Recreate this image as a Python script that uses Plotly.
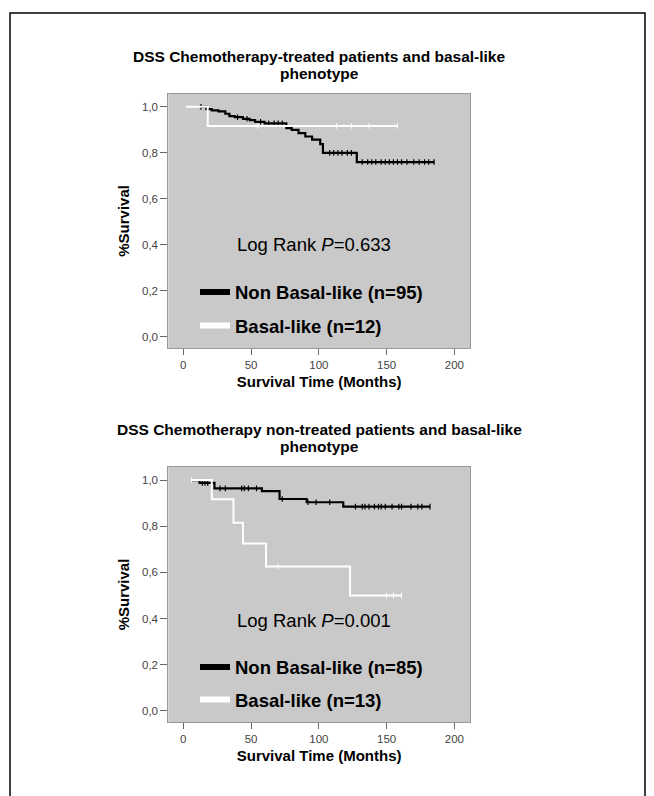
import plotly.graph_objects as go

# ---------------- data ----------------
# Top panel: chemotherapy-treated
top_nb_times = [12, 17, 21, 26, 31, 34, 38, 44, 49, 53, 60, 76, 80, 85, 90, 95, 101, 103, 128, 185]
top_nb_surv = [1.0, 0.99, 0.985, 0.98, 0.97, 0.96, 0.955, 0.948, 0.942, 0.935, 0.928, 0.907, 0.90, 0.886, 0.871, 0.857, 0.838, 0.80, 0.76, 0.76]
top_nb_cens_t = [13, 40, 47, 57, 63, 67, 70, 73, 108, 111, 114, 117, 121, 124, 132, 136, 139, 142, 146, 149, 152, 155, 158, 161, 165, 170, 174, 178, 181, 185]
top_nb_cens_s = [1.0, 0.955, 0.948, 0.935, 0.928, 0.928, 0.928, 0.928, 0.80, 0.80, 0.80, 0.80, 0.80, 0.80, 0.76, 0.76, 0.76, 0.76, 0.76, 0.76, 0.76, 0.76, 0.76, 0.76, 0.76, 0.76, 0.76, 0.76, 0.76, 0.76]

top_b_times = [2, 18, 158]
top_b_surv = [1.0, 0.917, 0.917]
top_b_cens_t = [55, 113, 124, 137, 158]
top_b_cens_s = [0.917, 0.917, 0.917, 0.917, 0.917]

# Bottom panel: chemotherapy non-treated
bot_nb_times = [6, 12, 23, 58, 71, 91, 118, 182]
bot_nb_surv = [1.0, 0.988, 0.964, 0.952, 0.918, 0.904, 0.885, 0.885]
bot_nb_cens_t = [14, 16, 18, 27, 31, 43, 45, 48, 54, 73, 92, 98, 108, 127, 132, 134, 137, 141, 144, 146, 149, 154, 159, 161, 168, 173, 176, 182]
bot_nb_cens_s = [0.988, 0.988, 0.988, 0.964, 0.964, 0.964, 0.964, 0.964, 0.964, 0.918, 0.904, 0.904, 0.904,
                 0.885, 0.885, 0.885, 0.885, 0.885, 0.885, 0.885, 0.885, 0.885, 0.885, 0.885, 0.885, 0.885, 0.885, 0.885]

bot_b_times = [6, 21, 37, 44, 61, 123, 161]
bot_b_surv = [1.0, 0.917, 0.815, 0.725, 0.625, 0.50, 0.50]
bot_b_cens_t = [6, 70, 150, 155, 161]
bot_b_cens_s = [1.0, 0.625, 0.50, 0.50, 0.50]

top_title = ["DSS Chemotherapy-treated patients and basal-like", "phenotype"]
bot_title = ["DSS Chemotherapy non-treated patients and basal-like", "phenotype"]
top_logrank = "Log Rank <i>P</i>=0.633"
bot_logrank = "Log Rank <i>P</i>=0.001"
top_labels = ["Non Basal-like (n=95)", "Basal-like (n=12)"]
bot_labels = ["Non Basal-like (n=85)", "Basal-like (n=13)"]
x_ticks = [0, 50, 100, 150, 200]
y_ticks = [0.0, 0.2, 0.4, 0.6, 0.8, 1.0]

# ---------------- layout helpers ----------------
W, H = 654, 796
FONT = "Liberation Sans, Arial, sans-serif"
GRAY = "#c9c9c9"

def px_x(p):
    return p / W

def px_y(p):
    return (H - p) / H

fig = go.Figure()

def add_panel(xa, ya, nb_t, nb_s, nb_ct, nb_cs, b_t, b_s, b_ct, b_cs, labels, legend_name):
    fig.add_trace(go.Scatter(x=nb_t, y=nb_s, mode="lines", line=dict(color="black", width=2.2, shape="hv"),
                             xaxis=xa, yaxis=ya, showlegend=False, hoverinfo="skip"))
    fig.add_trace(go.Scatter(x=nb_ct, y=nb_cs, mode="markers",
                             marker=dict(symbol="line-ns-open", size=4, color="black",
                                         line=dict(color="black", width=1.2)),
                             xaxis=xa, yaxis=ya, showlegend=False, hoverinfo="skip"))
    fig.add_trace(go.Scatter(x=b_t, y=b_s, mode="lines", line=dict(color="white", width=2, shape="hv"),
                             xaxis=xa, yaxis=ya, showlegend=False, hoverinfo="skip"))
    fig.add_trace(go.Scatter(x=b_ct, y=b_cs, mode="markers",
                             marker=dict(symbol="line-ns-open", size=4, color="white",
                                         line=dict(color="white", width=1)),
                             xaxis=xa, yaxis=ya, showlegend=False, hoverinfo="skip"))
    # legend entries
    fig.add_trace(go.Scatter(x=[None], y=[None], mode="lines", line=dict(color="black", width=6),
                             name=labels[0], legend=legend_name, legendgroup=legend_name + "a",
                             xaxis=xa, yaxis=ya))
    fig.add_trace(go.Scatter(x=[None], y=[None], mode="lines", line=dict(color="white", width=6),
                             name=labels[1], legend=legend_name, legendgroup=legend_name + "b",
                             xaxis=xa, yaxis=ya))

add_panel("x", "y", top_nb_times, top_nb_surv, top_nb_cens_t, top_nb_cens_s,
          top_b_times, top_b_surv, top_b_cens_t, top_b_cens_s, top_labels, "legend")
add_panel("x2", "y2", bot_nb_times, bot_nb_surv, bot_nb_cens_t, bot_nb_cens_s,
          bot_b_times, bot_b_surv, bot_b_cens_t, bot_b_cens_s, bot_labels, "legend2")

xdom = [px_x(168.3), px_x(470)]
top_ydom = [px_y(348.3), px_y(93.5)]
bot_ydom = [px_y(722.3), px_y(466.7)]

xaxis_common = dict(range=[-11.07, 211.5], tickvals=x_ticks, ticks="outside", ticklen=6, tickwidth=1,
                    tickcolor="#666", showgrid=False, zeroline=False, showline=True, linecolor="#9a9a9a",
                    linewidth=1, mirror=True, tickfont=dict(family=FONT, size=11.5, color="#444"),
                    title=dict(text="Survival Time (Months)", standoff=6,
                               font=dict(family=FONT, size=15, color="black", weight="bold")),
                    fixedrange=True)
yaxis_common = dict(range=[-0.05, 1.058], tickvals=y_ticks, tickformat=".1f", ticks="outside", ticklen=7,
                    tickwidth=1, tickcolor="#666", showgrid=False, zeroline=False, showline=True,
                    linecolor="#9a9a9a", linewidth=1, mirror=True,
                    tickfont=dict(family=FONT, size=11.5, color="#444"),
                    title=dict(text="%Survival", standoff=8,
                               font=dict(family=FONT, size=15, color="black", weight="bold")),
                    fixedrange=True)

fig.update_layout(
    width=W, height=H,
    margin=dict(l=0, r=0, t=0, b=0, autoexpand=False),
    paper_bgcolor="white",
    plot_bgcolor=GRAY,
    separators=",.",
    font=dict(family=FONT),
    xaxis=dict(domain=xdom, anchor="y", **xaxis_common),
    yaxis=dict(domain=top_ydom, anchor="x", **yaxis_common),
    xaxis2=dict(domain=xdom, anchor="y2", **xaxis_common),
    yaxis2=dict(domain=bot_ydom, anchor="x2", **yaxis_common),
    legend=dict(x=px_x(195), y=px_y(273.5), xanchor="left", yanchor="top", bgcolor="rgba(0,0,0,0)",
                font=dict(family=FONT, size=18.5, color="black", weight="bold"), tracegroupgap=6.5,
                itemclick=False, itemdoubleclick=False),
    legend2=dict(x=px_x(195), y=px_y(648.5), xanchor="left", yanchor="top", bgcolor="rgba(0,0,0,0)",
                 font=dict(family=FONT, size=18.5, color="black", weight="bold"), tracegroupgap=5.5,
                 itemclick=False, itemdoubleclick=False),
    showlegend=True,
)

# titles (one annotation per line for tight line spacing) and log-rank annotations
for lines, y1 in ((top_title, 57), (bot_title, 430)):
    for i, line in enumerate(lines):
        fig.add_annotation(text=line, xref="paper", yref="paper", x=px_x(319), y=px_y(y1 + 16 * i),
                           xanchor="center", yanchor="middle", showarrow=False,
                           font=dict(family=FONT, size=15.5, color="black", weight="bold"))
fig.add_annotation(text=top_logrank, xref="paper", yref="paper", x=px_x(235), y=px_y(245),
                   xanchor="left", yanchor="middle", showarrow=False,
                   font=dict(family=FONT, size=18.5, color="black"))
fig.add_annotation(text=bot_logrank, xref="paper", yref="paper", x=px_x(235), y=px_y(620),
                   xanchor="left", yanchor="middle", showarrow=False,
                   font=dict(family=FONT, size=18.5, color="black"))

# outer frame
fig.add_shape(type="rect", xref="paper", yref="paper", x0=px_x(10), x1=px_x(645), y0=px_y(806), y1=px_y(13),
              line=dict(color="black", width=1.5), fillcolor="rgba(0,0,0,0)", layer="above")

fig.write_html("out.html", config={"displayModeBar": False},
               post_script="document.body.style.margin='0';")
